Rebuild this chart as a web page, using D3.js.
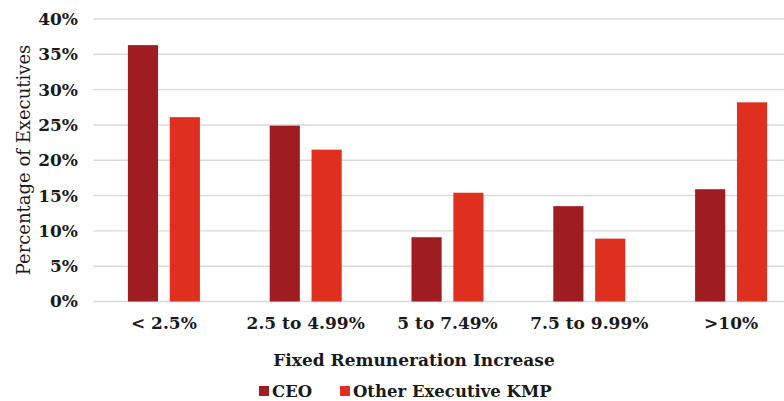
<!DOCTYPE html>
<html>
<head>
<meta charset="utf-8">
<script src="https://cdn.jsdelivr.net/npm/d3@7"></script>
<style>
  html, body { margin: 0; padding: 0; background: #fff; }
  svg { display: block; }
  text { font-family: "DejaVu Serif", "Liberation Serif", serif; fill: #1a1a1a; }
</style>
</head>
<body>
<script>
// Share of executives by size of fixed remuneration increase
const categories = ["< 2.5%", "2.5 to 4.99%", "5 to 7.49%", "7.5 to 9.99%", ">10%"];
const seriesNames = ["CEO", "Other Executive KMP"];
const ceoValues = [36.3, 24.9, 9.1, 13.5, 15.9];
const otherValues = [26.1, 21.5, 15.4, 8.9, 28.2];
const yTicks = [0, 5, 10, 15, 20, 25, 30, 35, 40];
const colors = ["#9f1d21", "#df2f1f"];

const W = 784, H = 401;
const svg = d3.select("body").append("svg").attr("width", W).attr("height", H);

const y = d3.scaleLinear().domain([0, 40]).range([301.5, 19]);
const x0 = d3.scaleBand().domain(categories).range([93, 802]).padding(0);
const x1 = d3.scaleBand().domain(seriesNames).range([-36, 36]).paddingInner(0.28);

// horizontal gridlines
svg.append("g")
  .selectAll("line")
  .data(yTicks)
  .join("line")
  .attr("x1", 93).attr("x2", W)
  .attr("y1", d => y(d)).attr("y2", d => y(d))
  .attr("stroke", "#dadada")
  .attr("stroke-width", 1.4);

// y axis labels
const yAxis = d3.axisLeft(y).tickValues(yTicks).tickFormat(d => d + "%").tickSize(0).tickPadding(0);
svg.append("g")
  .attr("transform", "translate(78,0)")
  .call(yAxis)
  .call(g => g.select(".domain").remove())
  .call(g => g.selectAll("text")
    .attr("font-family", "DejaVu Serif")
    .attr("font-size", 17)
    .attr("font-weight", "bold")
    .attr("fill", "#1a1a1a"));

// bars
const rows = categories.map((c, i) => ({ cat: c, vals: [ceoValues[i], otherValues[i]] }));
const groups = svg.append("g")
  .selectAll("g")
  .data(rows)
  .join("g")
  .attr("transform", d => `translate(${x0(d.cat) + x0.bandwidth() / 2},0)`);

groups.selectAll("rect")
  .data(d => d.vals.map((v, j) => ({ name: seriesNames[j], v, j })))
  .join("rect")
  .attr("x", d => x1(d.name))
  .attr("width", x1.bandwidth())
  .attr("y", d => y(d.v))
  .attr("height", d => y(0) - y(d.v))
  .attr("fill", d => colors[d.j]);

// x axis labels
const xAxis = d3.axisBottom(x0).tickSize(0).tickPadding(0);
svg.append("g")
  .attr("transform", "translate(0,317)")
  .call(xAxis)
  .call(g => g.select(".domain").remove())
  .call(g => g.selectAll("text")
    .attr("font-family", "DejaVu Serif")
    .attr("font-size", 17)
    .attr("font-weight", "bold")
    .attr("fill", "#1a1a1a"));

// axis titles
svg.append("text")
  .attr("x", 414).attr("y", 366)
  .attr("text-anchor", "middle")
  .attr("font-size", 17)
  .attr("font-weight", "bold")
  .text("Fixed Remuneration Increase");

svg.append("text")
  .attr("transform", "translate(30,160) rotate(-90)")
  .attr("text-anchor", "middle")
  .attr("font-size", 18)
  .text("Percentage of Executives");

// legend
const legendX = [259, 340];
const legend = svg.append("g")
  .selectAll("g")
  .data(seriesNames)
  .join("g")
  .attr("transform", (d, i) => `translate(${legendX[i]},0)`);
legend.append("rect")
  .attr("x", 0).attr("y", 386).attr("width", 10).attr("height", 10)
  .attr("fill", (d, i) => colors[i]);
legend.append("text")
  .attr("x", 13).attr("y", 397)
  .attr("font-size", 16.5)
  .attr("font-weight", "bold")
  .text(d => d);
</script>
</body>
</html>
